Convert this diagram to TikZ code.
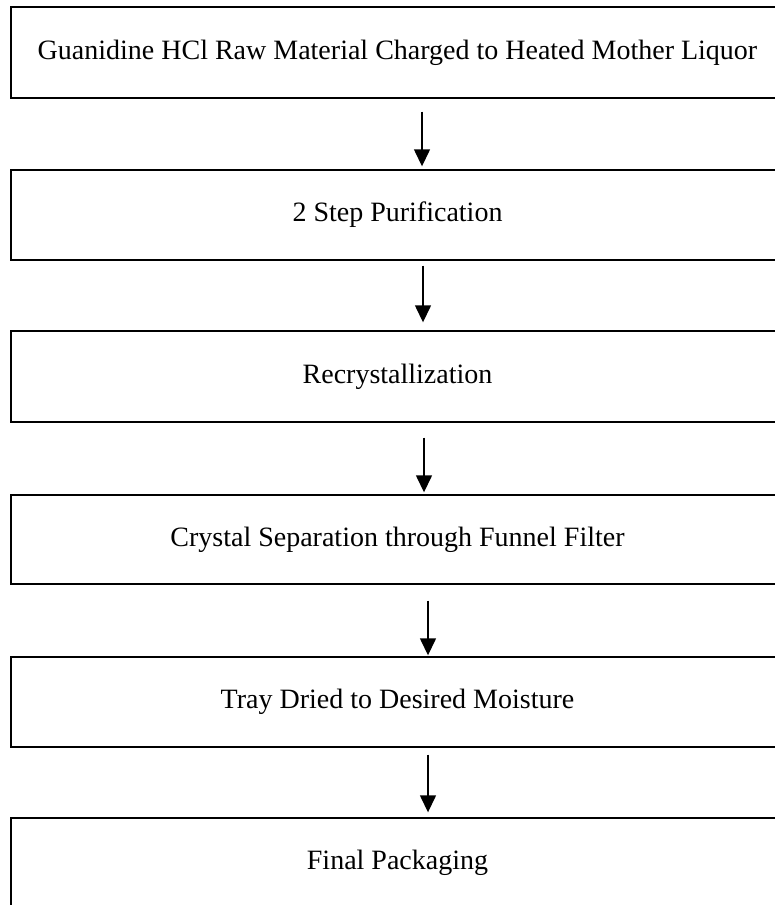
\documentclass[tikz,border=0pt]{standalone}
\usepackage{fontspec}
\setmainfont{Liberation Serif}
\usetikzlibrary{arrows.meta}
\begin{document}
\begin{tikzpicture}[x=1pt,y=-1pt,
  stepbox/.style={draw=black,line width=1.4pt,minimum width=773pt,inner sep=0pt,
    font=\fontsize{28}{33}\selectfont,text=black},
  arr/.style={line width=1.4pt,-{Triangle[width=16pt,length=17pt]}}]
\useasboundingbox (0,0) rectangle (775,905);
\node[stepbox,minimum height=91pt] (b1) at (397.5,52.5) {Guanidine HCl Raw Material Charged to Heated Mother Liquor};
\node[stepbox,minimum height=90pt] (b2) at (397.5,215) {2 Step Purification};
\node[stepbox,minimum height=91pt] (b3) at (397.5,376.5) {Recrystallization};
\node[stepbox,minimum height=89pt] (b4) at (397.5,539.5) {Crystal Separation through Funnel Filter};
\node[stepbox,minimum height=90pt] (b5) at (397.5,702) {Tray Dried to Desired Moisture};
\node[stepbox,minimum height=90pt] (b6) at (397.5,863) {Final Packaging};
\draw[arr] ([xshift=24.5pt,yshift=-13pt]b1.south) -- ([xshift=24.5pt,yshift=3pt]b2.north);
\draw[arr] ([xshift=25.5pt,yshift=-5pt]b2.south) -- ([xshift=25.5pt,yshift=8pt]b3.north);
\draw[arr] ([xshift=26.5pt,yshift=-15pt]b3.south) -- ([xshift=26.5pt,yshift=2pt]b4.north);
\draw[arr] ([xshift=30.5pt,yshift=-16pt]b4.south) -- ([xshift=30.5pt,yshift=1pt]b5.north);
\draw[arr] ([xshift=30.5pt,yshift=-7pt]b5.south) -- ([xshift=30.5pt,yshift=5pt]b6.north);
\end{tikzpicture}
\end{document}
